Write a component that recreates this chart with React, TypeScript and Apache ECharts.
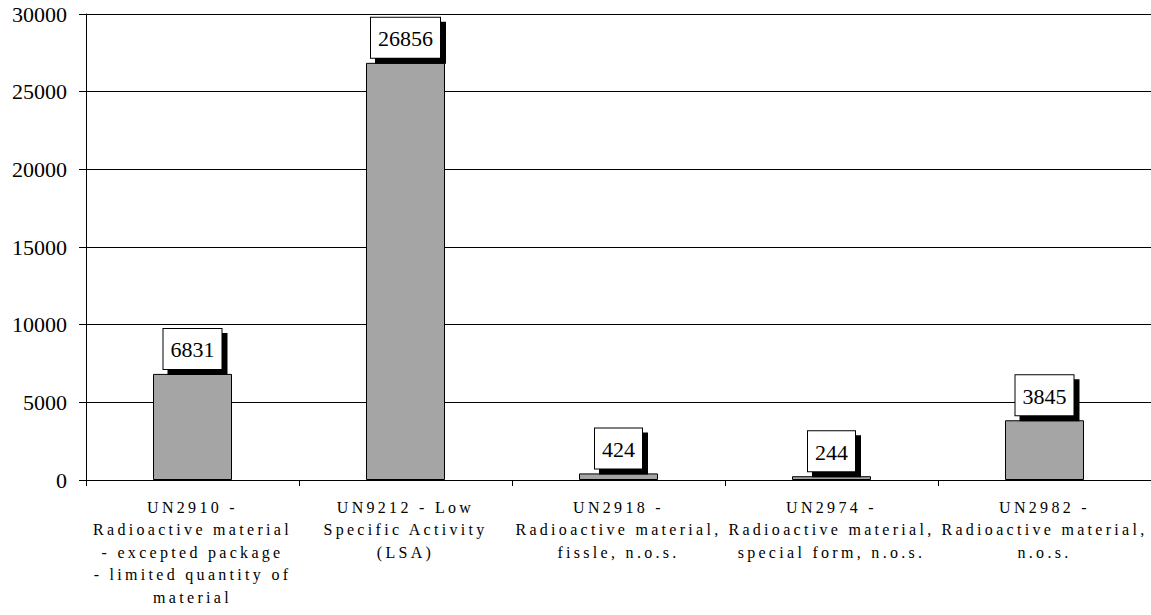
import React, { useEffect, useRef } from "react";
import * as echarts from "echarts";

// Shipments by UN number (count of packages)
const categories = [
  "UN2910 -\nRadioactive material\n- excepted package\n- limited quantity of\nmaterial",
  "UN9212 - Low\nSpecific Activity\n(LSA)",
  "UN2918 -\nRadioactive material,\nfissle, n.o.s.",
  "UN2974 -\nRadioactive material,\nspecial form, n.o.s.",
  "UN2982 -\nRadioactive material,\nn.o.s.",
];
const values = [6831, 26856, 424, 244, 3845];

const yMin = 0;
const yMax = 30000;
const yStep = 5000;

const serif = "'Liberation Serif', 'Times New Roman', Times, serif";

export default function App() {
  const ref = useRef<HTMLDivElement>(null);

  useEffect(() => {
    if (!ref.current) return;
    const chart = echarts.init(ref.current, null, { renderer: "svg" });
    chart.setOption({
      animation: false,
      backgroundColor: "#ffffff",
      grid: { left: 86, right: 0, top: 14, bottom: 135, containLabel: false },
      xAxis: {
        type: "category",
        data: categories,
        axisLine: { show: true, lineStyle: { color: "#000", width: 1 } },
        axisTick: { show: true, length: 6, alignWithLabel: false, lineStyle: { color: "#000" } },
        axisLabel: {
          interval: 0,
          color: "#000",
          fontFamily: serif,
          fontSize: 16,
          lineHeight: 22.5,
          margin: 16,
        },
        splitLine: { show: false },
      },
      yAxis: {
        type: "value",
        min: yMin,
        max: yMax,
        interval: yStep,
        axisLine: { show: true, lineStyle: { color: "#000", width: 1 } },
        axisTick: { show: true, length: 7, lineStyle: { color: "#000" } },
        axisLabel: {
          color: "#000",
          fontFamily: serif,
          fontSize: 22,
          margin: 19,
          formatter: (v: number) => String(v),
        },
        splitLine: { show: true, lineStyle: { color: "#000", width: 1 } },
      },
      series: [
        {
          type: "bar",
          data: values,
          barWidth: 79,
          itemStyle: { color: "#a5a5a5", borderColor: "#000", borderWidth: 1 },
          label: {
            show: true,
            position: "top",
            distance: 5,
            color: "#000",
            fontFamily: serif,
            fontSize: 22,
            backgroundColor: "#fff",
            borderColor: "#000",
            borderWidth: 1,
            padding: [10, 7, 8, 7],
            shadowColor: "#000",
            shadowOffsetX: 5,
            shadowOffsetY: 5,
            shadowBlur: 0,
          },
        },
      ],
    });

    // Category names are set with wide letter spacing
    const lines = new Set(categories.flatMap((c) => c.split("\n")));
    const spaceOut = () => {
      ref.current?.querySelectorAll("text").forEach((t) => {
        if (lines.has((t.textContent || "").trim())) {
          t.setAttribute("letter-spacing", "3.3px");
        }
      });
    };
    spaceOut();
    chart.on("finished", spaceOut);

    return () => chart.dispose();
  }, []);

  return (
    <div
      ref={ref}
      style={{ position: "fixed", left: 0, top: 0, width: 1151, height: 615, background: "#fff" }}
    />
  );
}
